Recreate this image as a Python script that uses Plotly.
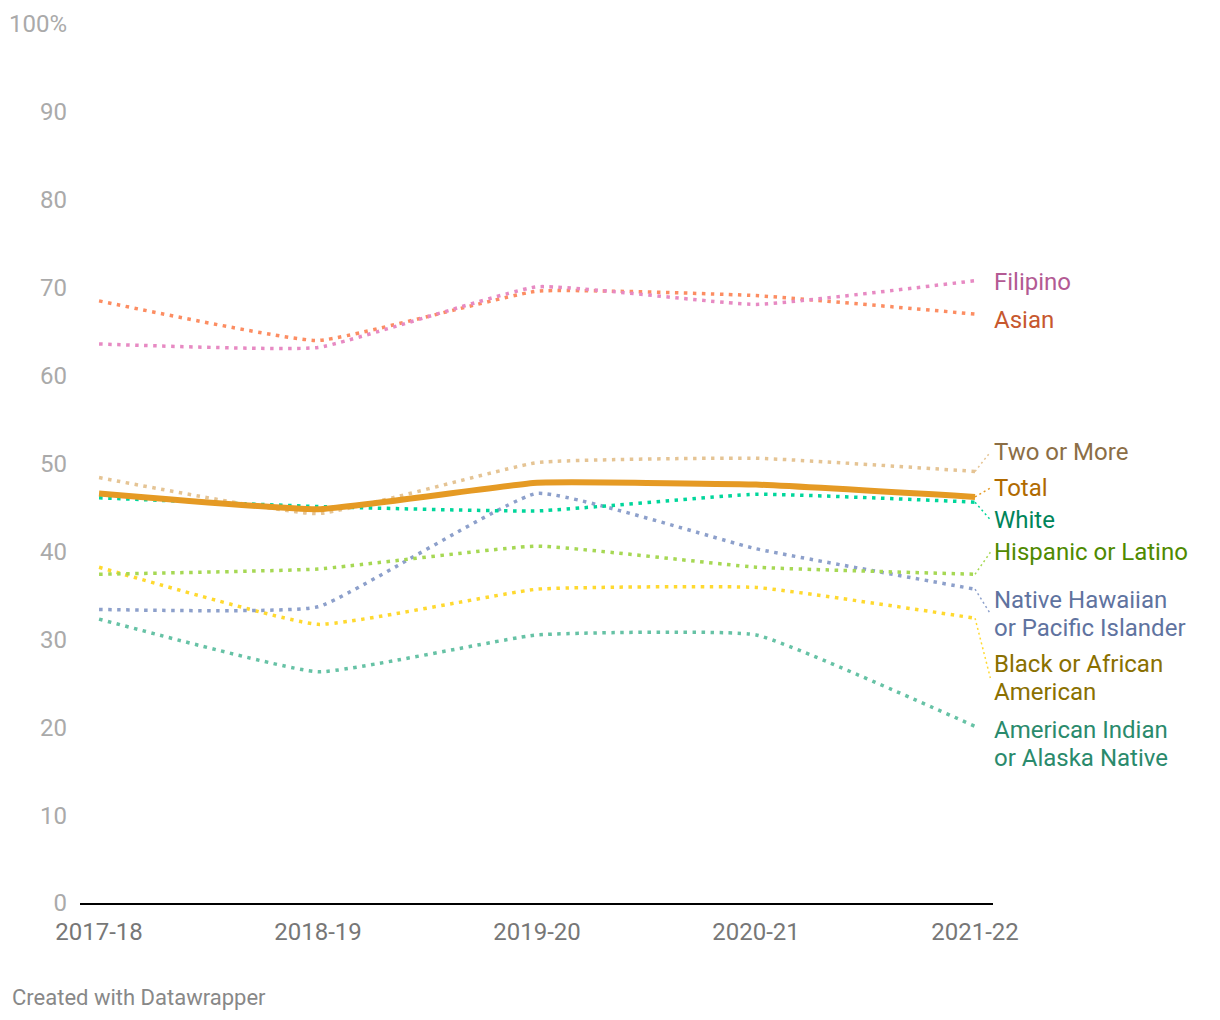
import plotly.graph_objects as go

years = ["2017-18", "2018-19", "2019-20", "2020-21", "2021-22"]

filipino = [63.6, 63.2, 70.1, 68.1, 70.8]
asian = [68.5, 64.0, 69.6, 69.1, 67.0]
two_or_more = [48.4, 44.3, 50.1, 50.6, 49.1]
total = [46.6, 44.8, 47.8, 47.6, 46.2]
white = [46.1, 45.1, 44.6, 46.5, 45.6]
hispanic = [37.4, 38.0, 40.6, 38.2, 37.4]
native_hawaiian = [33.4, 33.7, 46.6, 40.3, 35.7]
black = [38.2, 31.7, 35.7, 35.9, 32.4]
american_indian = [32.3, 26.3, 30.5, 30.5, 20.1]

y_tickvals = [0, 10, 20, 30, 40, 50, 60, 70, 80, 90, 100]
y_ticktext = ["0", "10", "20", "30", "40", "50", "60", "70", "80", "90", "100%"]

# name, values, line color, label color, label lines, label y (layout position), connector
series = [
    ("American Indian or Alaska Native", american_indian, "#66c2a5", "#2a8a6c", ["American Indian", "or Alaska Native"], 18.1, False),
    ("Black or African American", black, "#ffd92f", "#8a7000", ["Black or African", "American"], 25.6, True),
    ("Native Hawaiian or Pacific Islander", native_hawaiian, "#8da0cb", "#5f73a0", ["Native Hawaiian", "or Pacific Islander"], 32.9, True),
    ("Hispanic or Latino", hispanic, "#a6d854", "#4f8a00", ["Hispanic or Latino"], 39.9, True),
    ("White", white, "#00d69b", "#00855a", ["White"], 43.6, True),
    ("Two or More", two_or_more, "#e5c494", "#8c6e45", ["Two or More"], 51.3, True),
    ("Asian", asian, "#fc8d62", "#c7582e", ["Asian"], 66.3, False),
    ("Filipino", filipino, "#e78ac3", "#b35a93", ["Filipino"], 70.65, False),
]

SMOOTH = 0.35
xi = list(range(len(years)))
fig = go.Figure()

for name, vals, lc, tc, lab, ly, conn in series:
    fig.add_trace(go.Scatter(
        x=xi, y=vals, mode="lines", name=name,
        line=dict(color=lc, width=3.5, dash="3.5px,5.5px", shape="spline", smoothing=SMOOTH),
        hoverinfo="skip", cliponaxis=False,
    ))

fig.add_trace(go.Scatter(
    x=xi, y=total, mode="lines", name="Total",
    line=dict(color="#e59a24", width=6, shape="spline", smoothing=SMOOTH),
    hoverinfo="skip", cliponaxis=False,
))

all_labels = series + [("Total", total, "#e59a24", "#b06a00", ["Total"], 47.2, True)]
annotations = []
LINE_H = 28
for name, vals, lc, tc, lab, ly, conn in all_labels:
    if conn:
        fig.add_trace(go.Scatter(
            x=[xi[-1], xi[-1] + 0.07], y=[vals[-1], ly], mode="lines",
            line=dict(color=lc, width=1.5, dash="2px,3px"),
            hoverinfo="skip", cliponaxis=False,
        ))
    n = len(lab)
    for k, line in enumerate(lab):
        shift = ((n - 1) / 2 - k) * LINE_H
        annotations.append(dict(
            x=1, xref="paper", y=ly, yref="y", text=line, showarrow=False,
            xanchor="left", yanchor="middle", xshift=-1, yshift=shift, align="left",
            font=dict(family="Roboto", size=24, color=tc),
        ))

annotations.append(dict(
    x=-70 / 913, xref="paper", y=-(997 - 903) / 879, yref="paper",
    text="Created with Datawrapper",
    showarrow=False, xanchor="left", yanchor="middle",
    font=dict(family="Roboto", size=22, color="#888888"),
))

fig.update_layout(
    width=1220, height=1020,
    margin=dict(l=80, r=227, t=24, b=117, autoexpand=False),
    paper_bgcolor="white", plot_bgcolor="white",
    showlegend=False,
    font=dict(family="Roboto"),
    annotations=annotations,
    xaxis=dict(
        range=[-0.087, 4.082], tickvals=xi, ticktext=years, automargin=False,
        showgrid=False, zeroline=False, showline=True, linecolor="#000000", linewidth=2,
        ticks="", ticklabelstandoff=6,
        tickfont=dict(family="Roboto", size=24, color="#777777"),
    ),
    yaxis=dict(
        range=[0, 100], tickvals=y_tickvals, ticktext=y_ticktext, automargin=False,
        showgrid=False, zeroline=False, showline=False,
        ticks="", ticklabelstandoff=12,
        tickfont=dict(family="Roboto", size=24, color="#aaaaaa"),
    ),
)

fig.write_html("out.html")
